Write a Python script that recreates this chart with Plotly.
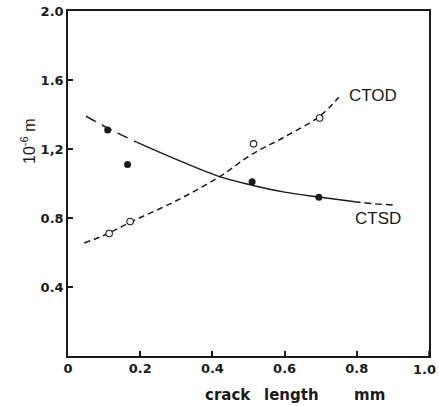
import plotly.graph_objects as go

# measured points
ctsd_x = [0.11, 0.165, 0.51, 0.695]
ctsd_y = [1.31, 1.11, 1.01, 0.92]
ctod_x = [0.114, 0.172, 0.514, 0.697]
ctod_y = [0.71, 0.78, 1.23, 1.38]

# fitted curves
ctod_fit_x = [0.045, 0.1, 0.172, 0.3, 0.42, 0.51, 0.6, 0.697, 0.75]
ctod_fit_y = [0.655, 0.70, 0.775, 0.90, 1.04, 1.17, 1.27, 1.39, 1.50]

ctsd_lead_x = [0.05, 0.12, 0.19]
ctsd_lead_y = [1.39, 1.31, 1.24]
ctsd_mid_x = [0.19, 0.3, 0.42, 0.51, 0.6, 0.7, 0.79]
ctsd_mid_y = [1.24, 1.14, 1.04, 0.99, 0.95, 0.92, 0.895]
ctsd_tail_x = [0.79, 0.85, 0.91]
ctsd_tail_y = [0.895, 0.882, 0.875]

x_ticks = [0, 0.2, 0.4, 0.6, 0.8, 1.0]
x_ticktext = ["0", "0.2", "0.4", "0.6", "0.8", "1.0"]
y_ticks = [0.4, 0.8, 1.2, 1.6, 2.0]
y_ticktext = ["0.4", "0.8", "1,2", "1.6", "2.0"]
x_title_words = ["crack", "length", "mm"]

ink = "#1a1a1a"
fig = go.Figure()
fig.add_trace(go.Scatter(x=ctod_fit_x, y=ctod_fit_y, mode="lines",
                         line=dict(color=ink, width=1.5, dash="6px,4px", shape="spline")))
fig.add_trace(go.Scatter(x=ctsd_lead_x, y=ctsd_lead_y, mode="lines",
                         line=dict(color=ink, width=1.5, dash="11px,7px", shape="spline")))
fig.add_trace(go.Scatter(x=ctsd_mid_x, y=ctsd_mid_y, mode="lines",
                         line=dict(color=ink, width=1.5, shape="spline")))
fig.add_trace(go.Scatter(x=ctsd_tail_x, y=ctsd_tail_y, mode="lines",
                         line=dict(color=ink, width=1.5, dash="7px,4px", shape="spline")))
fig.add_trace(go.Scatter(x=ctsd_x, y=ctsd_y, mode="markers",
                         marker=dict(color=ink, size=7, symbol="circle")))
fig.add_trace(go.Scatter(x=ctod_x, y=ctod_y, mode="markers",
                         marker=dict(color="white", size=6.5, symbol="circle",
                                     line=dict(color=ink, width=1.1))))

fig.add_annotation(x=0.845, y=1.51, text="CTOD", showarrow=False,
                   font=dict(family="Liberation Sans", size=17, color=ink))
fig.add_annotation(x=0.86, y=0.80, text="CTSD", showarrow=False,
                   font=dict(family="Liberation Sans", size=17, color=ink))

tick_font = dict(family="DejaVu Sans", size=13, color=ink)
fig.update_layout(
    width=439, height=406,
    margin=dict(l=68, r=10, t=11, b=50, autoexpand=False),
    paper_bgcolor="white", plot_bgcolor="white",
    showlegend=False,
    font=tick_font,
    xaxis=dict(range=[0, 1.0], tickvals=x_ticks[:-1],
               ticktext=[f"<b>{t}</b>" for t in x_ticktext[:-1]],
               ticks="inside", ticklen=5, tickwidth=1.5, tickcolor=ink, automargin=False,
               showline=True, linecolor=ink, linewidth=1.5, mirror=True,
               showgrid=False, zeroline=False, tickfont=tick_font),
    yaxis=dict(range=[0, 2.0], tickvals=y_ticks, ticktext=[f"<b>{t}</b>" for t in y_ticktext],
               ticks="inside", ticklen=5, tickwidth=1.5, tickcolor=ink, automargin=False,
               showline=True, linecolor=ink, linewidth=1.5, mirror=True,
               showgrid=False, zeroline=False, tickfont=tick_font),
)
# last x tick (label sits at the right edge, as in the source)
fig.add_shape(type="line", xref="x", yref="paper", x0=x_ticks[-1], x1=x_ticks[-1],
              y0=0, y1=5 / 345, line=dict(color=ink, width=1.5))
fig.add_annotation(x=(438 - 68) / 361, y=-13 / 345, xref="paper", yref="paper",
                   xanchor="right", yanchor="middle", text=f"<b>{x_ticktext[-1]}</b>",
                   showarrow=False, font=tick_font)

title_font = dict(family="DejaVu Sans", size=15, color=ink)
for word, px in zip(x_title_words, [203, 262, 352]):
    fig.add_annotation(x=(px - 68) / 361, y=-39 / 345, xref="paper", yref="paper",
                       xanchor="left", yanchor="middle", text=f"<b>{word}</b>",
                       showarrow=False, font=title_font)
fig.add_annotation(x=-40 / 361, y=(356 - 141) / 345, xref="paper", yref="paper",
                   xanchor="center", yanchor="middle",
                   text="10<sup>-6</sup> m", textangle=-90, showarrow=False,
                   font=dict(family="Liberation Sans", size=16, color=ink))

fig.write_html("out.html", config={"displayModeBar": False},
               post_script="document.body.style.margin='0';document.body.style.overflow='hidden';")
